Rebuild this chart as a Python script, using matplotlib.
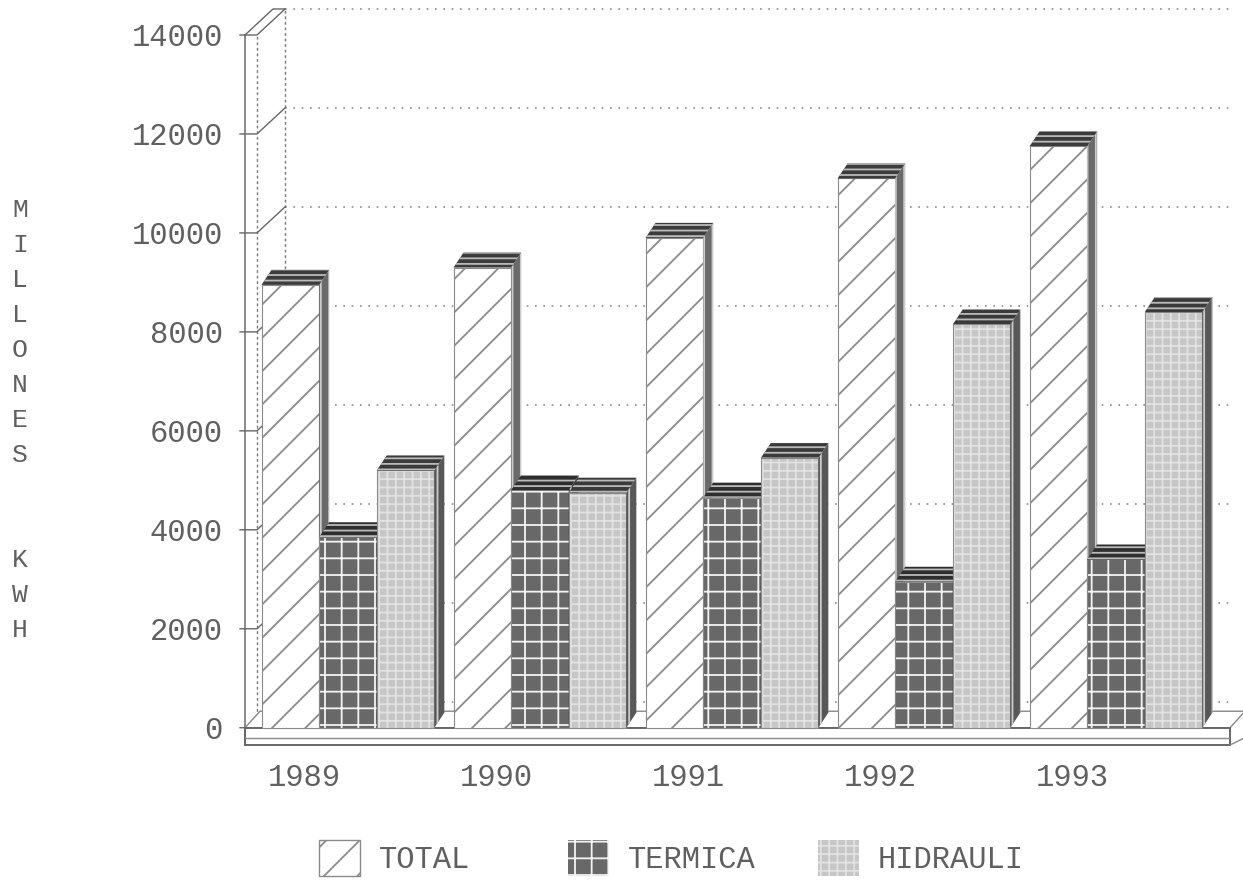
import numpy as np
import matplotlib
matplotlib.use("Agg")
import matplotlib.pyplot as plt
from matplotlib.patches import Polygon, Patch

# values (millones kWh)
years = ['1989', '1990', '1991', '1992', '1993']
total = [8950, 9300, 9900, 11100, 11750]
termica = [3850, 4800, 4650, 2950, 3400]
hidrauli = [5200, 4750, 5450, 8150, 8400]
series_names = ['TOTAL', 'TERMICA', 'HIDRAULI']
yticks = [0, 2000, 4000, 6000, 8000, 10000, 12000, 14000]
ylabel = 'MILLONES  KWH'

plt.rcParams['font.family'] = ['Liberation Mono', 'DejaVu Sans Mono']
plt.rcParams['hatch.linewidth'] = 1.3

W, H = 1243, 883
fig = plt.figure(figsize=(W / 100, H / 100), dpi=100)
ax = fig.add_axes([245 / W, (H - 750) / H, (1230 - 245) / W, 715 / H])
xmin, xmax = -0.536, 4.594
ymin, ymax = -450, 14000
ax.set_xlim(xmin, xmax)
ax.set_ylim(ymin, ymax)
for s in ax.spines.values():
    s.set_visible(False)

# pixel -> data units
ux = (xmax - xmin) / 985.0
uy = (ymax - ymin) / 715.0

# 3d offsets in pixels
bar_dx, bar_dy = 10, 15       # depth of each bar
wall_dx, wall_dy = 40, 26     # depth of the back wall
pil_w = 12                    # front width of the y "pillar"

text_col = '#606060'
line_col = '#777777'

# back wall grid (dotted)
for t in yticks:
    ax.plot([xmin + wall_dx * ux, xmax], [t + wall_dy * uy] * 2,
            ls=(0, (1, 4)), color='#8c8c8c', lw=1.2, zorder=1, clip_on=False)

# y pillar
x0 = xmin
ax.plot([x0, x0], [ymin + 100, 14000], color=line_col, lw=1.2, zorder=2, clip_on=False)
ax.plot([x0 + pil_w * ux] * 2, [0, 14000], color=line_col, lw=1, ls=(0, (2, 2)), zorder=2)
ax.plot([x0 + wall_dx * ux] * 2, [wall_dy * uy, 14000 + wall_dy * uy],
        color=line_col, lw=1, ls=(0, (2, 2)), zorder=2, clip_on=False)
for t in yticks:
    ax.plot([x0 - 5 * ux, x0 + pil_w * ux, x0 + wall_dx * ux],
            [t, t, t + wall_dy * uy], color='#666666', lw=1, zorder=2, clip_on=False)
ax.plot([x0, x0 + (wall_dx - pil_w) * ux, x0 + wall_dx * ux],
        [14000, 14000 + wall_dy * uy, 14000 + wall_dy * uy],
        color='#666666', lw=1, zorder=2, clip_on=False)

# floor
floor_lo = -350
ax.add_patch(Polygon([(x0, 0), (xmax, 0), (xmax + bar_dx * ux * 1.5, bar_dy * uy * 1.1),
                      (x0 + bar_dx * ux * 1.5, bar_dy * uy * 1.1)],
                     closed=True, facecolor='white', edgecolor='#888888', lw=1,
                     zorder=2, clip_on=False))
ax.add_patch(Polygon([(x0, floor_lo), (xmax, floor_lo), (xmax, 0), (x0, 0)],
                     closed=True, facecolor='white', edgecolor='#666666', lw=1.4,
                     zorder=2, clip_on=False))
ax.plot([x0, xmax], [floor_lo * 0.6] * 2, color='#888888', lw=1, zorder=3)
ax.plot([xmax, xmax + bar_dx * ux * 1.5, xmax + bar_dx * ux * 1.5],
        [floor_lo, floor_lo + 150, bar_dy * uy * 1.1], color='#888888', lw=1,
        zorder=3, clip_on=False)

# bars
groups = np.arange(len(years))
bw = 0.30
styles = [
    dict(face='white', hatch='/', hcol='#8a8a8a', side='#6a6a6a', top='#3c3c3c'),
    dict(face='#686868', hatch='+', hcol='#f4f4f4', side='#3c3c3c', top='#2e2e2e'),
    dict(face='#c6c6c6', hatch='++', hcol='#e2e2e2', side='#585858', top='#3a3a3a'),
]
data = [total, termica, hidrauli]

for g in groups:
    for j, vals in enumerate(data):
        st = styles[j]
        xc = g + (j - 1) * bw
        h = vals[g]
        z = 5 + j * 3
        ax.bar(xc, h, width=bw, color=st['face'], edgecolor=st['hcol'], hatch=st['hatch'],
               lw=0, zorder=z)
        ax.bar(xc, h, width=bw, facecolor='none', edgecolor='#8a8a8a', lw=0.8, zorder=z)
        xl, xr = xc - bw / 2, xc + bw / 2
        dx, dy = bar_dx * ux, bar_dy * uy
        # side face
        ax.add_patch(Polygon([(xr, 0), (xr + dx, dy), (xr + dx, h + dy), (xr, h)],
                             closed=True, facecolor=st['side'], edgecolor='#cccccc',
                             hatch='||', lw=0, zorder=z + 1))
        # top face
        ax.add_patch(Polygon([(xl, h), (xr, h), (xr + dx, h + dy), (xl + dx, h + dy)],
                             closed=True, facecolor=st['top'], edgecolor='#bbbbbb',
                             hatch='---', lw=0, zorder=z + 1))

# ticks and labels
ax.set_yticks(yticks)
ax.set_yticklabels([str(t) for t in yticks], fontsize=22, color=text_col)
ax.tick_params(axis='y', length=0, pad=16)
ax.set_xticks(groups - 0.23)
ax.set_xticklabels(years, fontsize=22, color=text_col)
ax.tick_params(axis='x', length=0, pad=9)

# vertical y label, one letter per line
for k, ch in enumerate(ylabel):
    if ch != ' ':
        fig.text(20 / W, 1 - (210 + 35 * k) / H, ch, fontsize=19, color=text_col,
                 ha='center', va='center')

# legend: one entry per fixed column, like the original printout
leg_x = [319, 568, 818]
for k, st in enumerate(styles):
    hnd = Patch(facecolor=st['face'], edgecolor=st['hcol'], hatch=st['hatch'],
                lw=1 if k == 0 else 0)
    leg = fig.legend([hnd], [series_names[k]], loc='center left',
                     bbox_to_anchor=(leg_x[k] / W, 1 - 858 / H), frameon=False,
                     fontsize=22, handlelength=1.34, handleheight=1.47,
                     handletextpad=0.62, borderpad=0, borderaxespad=0)
    for t in leg.get_texts():
        t.set_color(text_col)

fig.savefig('out.png', dpi=100)
